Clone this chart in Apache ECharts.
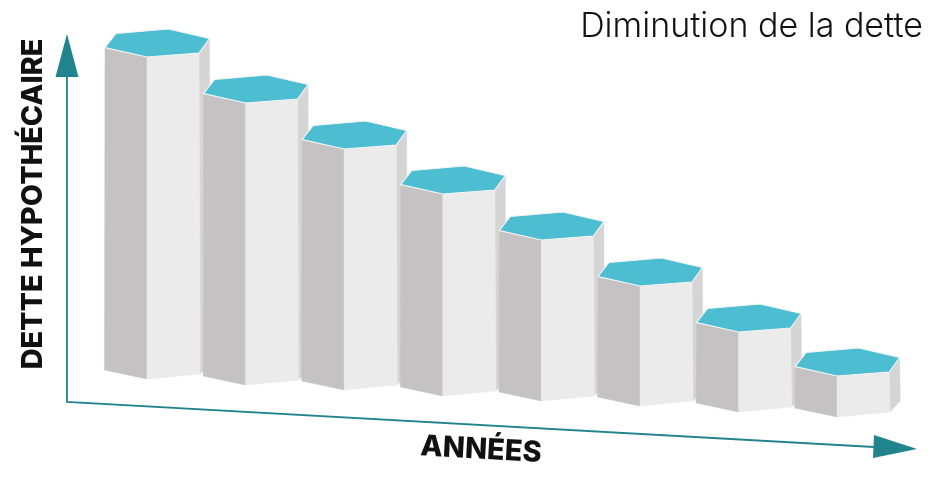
<!DOCTYPE html>
<html>
<head>
<meta charset="utf-8">
<style>html,body{margin:0;padding:0;background:#fff}#c{width:945px;height:486px}</style>
<script src="https://cdn.jsdelivr.net/npm/echarts@6/dist/echarts.min.js"></script>
</head>
<body>
<div id="c"></div>
<script>
var years = [0, 1, 2, 3, 4, 5, 6, 7];
var debtHeight = [322, 282, 241, 202, 161, 120, 80, 41];
var floorLevel = [0, -6, -11, -17, -22, -27, -33, -38];
var titleText = 'Diminution de la dette';
var yLabel = 'DETTE HYPOTHÉCAIRE';
var xLabel = 'ANNÉES';

var COL = {top:'#4dbdd2', left:'#c4c2c3', front:'#ebebeb', right:'#d6d5d5', axis:'#21838d', text:'#111111'};
var rows = years.map(function (y, i) { return [y, floorLevel[i], debtHeight[i]]; });

function renderPrism(params, api) {
  var x = api.value(0), floor = api.value(1), h = api.value(2);
  var b = api.coord([x, floor]);
  var t = api.coord([x, floor + h]);
  function P(o, dx, dy) { return [o[0] + dx, o[1] + dy]; }
  var tL = P(t,-42,-9.5), tTL = P(t,-31,-23.5), tTR = P(t,21.5,-28), tR = P(t,62.5,-18.5), tLR = P(t,52,-4);
  var bL = P(b,-42.5,-9), bLR = P(b,53,-5), bR = P(b,63,-16);
  function poly(points, fill, stroke) {
    return {type:'polygon', shape:{points:points},
      style:{fill:fill, stroke:stroke||fill, lineWidth:stroke?1.2:0.5}};
  }
  return {type:'group', children:[
    poly([tR,tLR,bLR,bR], COL.right),
    poly([tL,t,b,bL], COL.left),
    poly([t,tLR,bLR,b], COL.front),
    poly([tL,tTL,tTR,tR,tLR,t], COL.top, '#f4f4f4')
  ]};
}

var chart = echarts.init(document.getElementById('c'), null, {renderer:'canvas'});
chart.setOption({
  animation:false,
  backgroundColor:'#ffffff',
  title:{text:titleText, right:17, top:5,
    textStyle:{fontFamily:'Inter', fontWeight:300, fontSize:34, color:COL.text}},
  grid:{left:147, top:39, width:788.8, height:400},
  xAxis:{type:'value', min:0, max:8, show:false},
  yAxis:{type:'value', min:-60, max:340, show:false},
  series:[{type:'custom', renderItem:renderPrism, data:rows, encode:{x:0, y:[1,2]}, silent:true, clip:false}],
  graphic:[
    {type:'polyline', shape:{points:[[67,77],[67,402],[874,447]]}, style:{stroke:COL.axis, lineWidth:1.8, fill:null}},
    {type:'polygon', shape:{points:[[67,34],[78.5,77],[55.5,77]]}, style:{fill:COL.axis}},
    {type:'polygon', shape:{points:[[874,435],[917,449],[873,458]]}, style:{fill:COL.axis}},
    {type:'text', x:33, y:204, rotation:Math.PI/2,
      style:{text:yLabel, fontFamily:'Inter', fontWeight:800, fontSize:28.8, fill:COL.text, textAlign:'center', textVerticalAlign:'middle'}},
    {type:'text', x:481, y:450, rotation:-3.2*Math.PI/180,
      style:{text:xLabel, fontFamily:'Inter', fontWeight:800, fontSize:29, fill:COL.text, textAlign:'center', textVerticalAlign:'middle'}}
  ]
});
</script>
</body>
</html>
